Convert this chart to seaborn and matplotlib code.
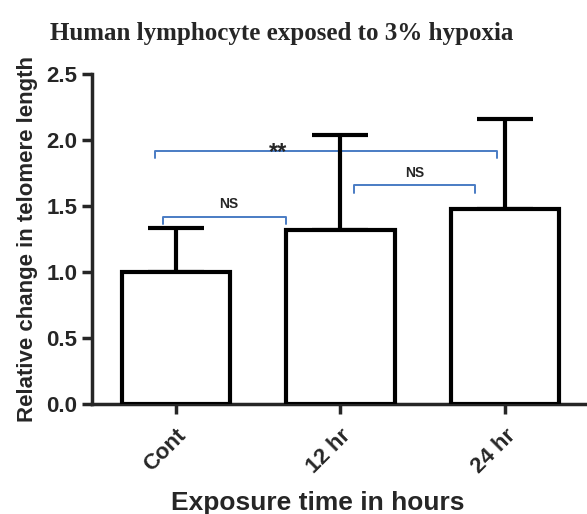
import numpy as np
import pandas as pd
import matplotlib
matplotlib.use("Agg")
import matplotlib.pyplot as plt
import seaborn as sns

# Données
categories = ["Cont", "12 hr", "24 hr"]
means = [1.0, 1.32, 1.48]
err_upper = [0.33, 0.72, 0.68]

# Comparaisons (x gauche, x droite, hauteur, texte, x du texte)
brackets_x1 = [-0.08, -0.13, 1.08]
brackets_x2 = [0.67, 1.95, 1.82]
brackets_y = [1.42, 1.92, 1.66]
brackets_txt = ["NS", "**", "NS"]
brackets_tx = [0.32, 0.62, 1.45]

sns.set_style("ticks")
plt.rcParams['font.family'] = ['Liberation Sans', 'DejaVu Sans']

df = pd.DataFrame({"cat": categories, "val": means})

fig = plt.figure(figsize=(5.87, 5.14), dpi=100)
ax = fig.add_axes([0.157, 0.214, 0.843, 0.642])

# Barres d'erreur (vers le haut seulement)
x = np.arange(len(categories))
ax.errorbar(x, means, yerr=[np.zeros(len(means)), err_upper], fmt="none",
            ecolor="black", elinewidth=3, capsize=20.5, capthick=3, zorder=3)

sns.barplot(data=df, x="cat", y="val", color="white", edgecolor="black",
            linewidth=3, width=0.66, errorbar=None, ax=ax, zorder=4)

# Crochets de significativité
blue = "#4a7cc4"
for x1, x2, y, t, tx in zip(brackets_x1, brackets_x2, brackets_y,
                            brackets_txt, brackets_tx):
    d = 0.06
    ax.plot([x1, x1, x2, x2], [y - d, y, y, y - d], color=blue, lw=1.4, zorder=2)
    if t == "**":
        ax.text(tx, y - 0.1, t, ha="center", va="bottom",
                fontsize=17, fontweight="bold", zorder=5)
    else:
        ax.text(tx, y + 0.04, t, ha="center", va="bottom",
                fontsize=10, fontweight="bold", zorder=5)

ax.set_xlim(-0.51, 2.5)
ax.set_ylim(0, 2.5)
ax.set_yticks([0.0, 0.5, 1.0, 1.5, 2.0, 2.5])
ax.set_yticklabels(["0.0", "0.5", "1.0", "1.5", "2.0", "2.5"])

for s in ["top", "right"]:
    ax.spines[s].set_visible(False)
for s in ["left", "bottom"]:
    ax.spines[s].set_linewidth(2.5)

ax.tick_params(axis="both", direction="out", length=7, width=2.5, labelsize=16)
ax.tick_params(axis="x", pad=8)
plt.setp(ax.get_yticklabels(), fontweight="bold")
plt.setp(ax.get_xticklabels(), rotation=45, ha="right", rotation_mode="anchor",
         fontweight="bold")

ax.set_xlabel("Exposure time in hours", fontsize=19, fontweight="bold", labelpad=10)
ax.xaxis.set_label_coords(0.455, -0.265)
ax.set_ylabel("Relative change in telomere length", fontsize=16, fontweight="bold",
              labelpad=6)

fig.text(0.48, 0.935, "Human lymphocyte exposed to 3% hypoxia", ha="center",
         va="center", fontsize=18, fontweight="bold", family="Liberation Serif")

fig.savefig("out.png", dpi=100)
